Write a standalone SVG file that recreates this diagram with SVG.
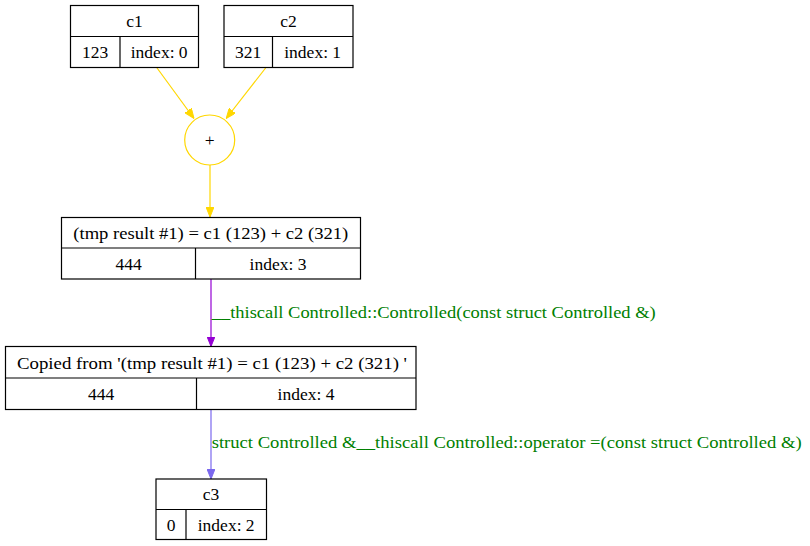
<svg xmlns="http://www.w3.org/2000/svg" width="810" height="546" viewBox="0 0 810 546">
<defs>
<style>
.box{fill:#fff;stroke:#000;stroke-width:1.2}
.ln{stroke:#000;stroke-width:1.2}
.t{font-family:"Liberation Serif","Times New Roman",serif;font-size:17.5px;fill:#000;text-anchor:middle}
.lbl{font-family:"Liberation Serif","Times New Roman",serif;font-size:17px;fill:#008000}
.gold{stroke:#ffd700;stroke-width:1.2;fill:none}
</style>
<marker id="ag" markerUnits="userSpaceOnUse" markerWidth="10" markerHeight="8" refX="10" refY="4" orient="auto"><path d="M0,0 L10,4 L0,8 z" fill="#ffd700" stroke="#ffd700"/></marker>
<marker id="ap" markerUnits="userSpaceOnUse" markerWidth="10" markerHeight="8" refX="10" refY="4" orient="auto"><path d="M0,0 L10,4 L0,8 z" fill="#9400d3" stroke="#9400d3"/></marker>
<marker id="ab" markerUnits="userSpaceOnUse" markerWidth="10" markerHeight="8" refX="10" refY="4" orient="auto"><path d="M0,0 L10,4 L0,8 z" fill="#7b68ee" stroke="#7b68ee"/></marker>
</defs>
<rect width="810" height="546" fill="#fff"/>
<g id="edges">
<line class="gold" x1="156.7" y1="67.5" x2="194" y2="118.5" marker-end="url(#ag)"/>
<line class="gold" x1="266" y1="67.5" x2="226.2" y2="118.5" marker-end="url(#ag)"/>
<line class="gold" x1="210" y1="165" x2="210" y2="217" marker-end="url(#ag)"/>
<line x1="211" y1="279" x2="211" y2="346.5" stroke="#9400d3" stroke-width="1.2" marker-end="url(#ap)"/>
<text class="lbl" x="211.7" y="318" textLength="444" lengthAdjust="spacingAndGlyphs">__thiscall Controlled::Controlled(const struct Controlled &amp;)</text>
<line x1="211" y1="409.5" x2="211" y2="479" stroke="#7b68ee" stroke-width="1.2" marker-end="url(#ab)"/>
<text class="lbl" x="211.7" y="447.5" textLength="590" lengthAdjust="spacingAndGlyphs">struct Controlled &amp;__thiscall Controlled::operator =(const struct Controlled &amp;)</text>
</g>
<g id="c1">
<rect class="box" x="70.5" y="5.5" width="128" height="62"/>
<line class="ln" x1="70.5" y1="36.5" x2="198.5" y2="36.5"/>
<line class="ln" x1="120" y1="36.5" x2="120" y2="67.5"/>
<text class="t" x="134.5" y="26.5">c1</text>
<text class="t" x="95.2" y="57.5">123</text>
<text class="t" x="159.2" y="57.5">index: 0</text>
</g>
<g id="c2">
<rect class="box" x="224" y="5.5" width="129" height="62"/>
<line class="ln" x1="224" y1="36.5" x2="353" y2="36.5"/>
<line class="ln" x1="272.5" y1="36.5" x2="272.5" y2="67.5"/>
<text class="t" x="288.5" y="26.5">c2</text>
<text class="t" x="248.2" y="57.5">321</text>
<text class="t" x="312.7" y="57.5">index: 1</text>
</g>
<g id="plus">
<circle cx="209.7" cy="140" r="25" fill="#fff" stroke="#ffd700" stroke-width="1.2"/>
<text class="t" x="209.7" y="145.5">+</text>
</g>
<g id="tmp">
<rect class="box" x="61.5" y="217.5" width="299" height="61.5"/>
<line class="ln" x1="61.5" y1="248" x2="360.5" y2="248"/>
<line class="ln" x1="195.5" y1="248" x2="195.5" y2="279"/>
<text class="t" x="210.8" y="238.5" textLength="275" lengthAdjust="spacingAndGlyphs">(tmp result #1) = c1 (123) + c2 (321)</text>
<text class="t" x="128.5" y="269.5">444</text>
<text class="t" x="278" y="269.5">index: 3</text>
</g>
<g id="copied">
<rect class="box" x="5.5" y="346.5" width="410.5" height="63"/>
<line class="ln" x1="5.5" y1="378" x2="416" y2="378"/>
<line class="ln" x1="196.5" y1="378" x2="196.5" y2="409.5"/>
<text class="t" x="212" y="368.5" textLength="390" lengthAdjust="spacingAndGlyphs">Copied from '(tmp result #1) = c1 (123) + c2 (321) '</text>
<text class="t" x="101" y="399.5">444</text>
<text class="t" x="306" y="399.5">index: 4</text>
</g>
<g id="c3">
<rect class="box" x="156" y="479" width="110.5" height="60.5"/>
<line class="ln" x1="156" y1="509.5" x2="266.5" y2="509.5"/>
<line class="ln" x1="186" y1="509.5" x2="186" y2="539.5"/>
<text class="t" x="211" y="500">c3</text>
<text class="t" x="171" y="530.5">0</text>
<text class="t" x="226.2" y="530.5">index: 2</text>
</g>
</svg>
